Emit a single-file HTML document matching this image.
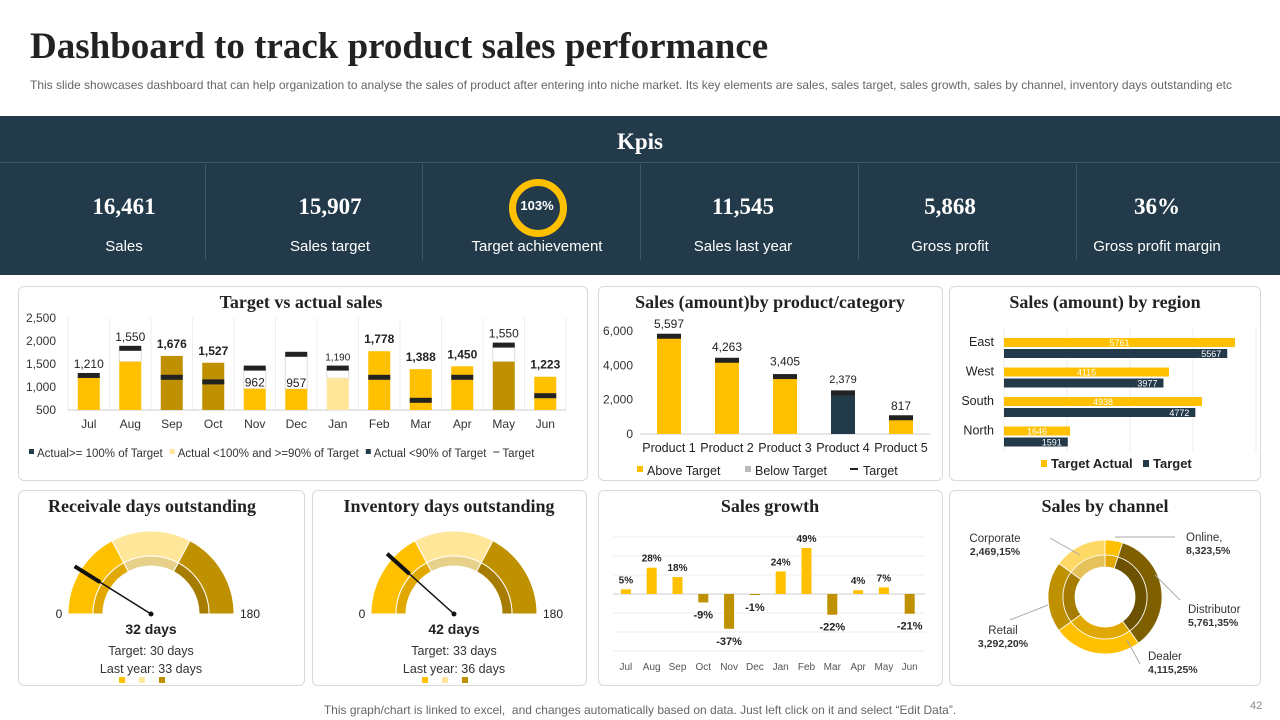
<!DOCTYPE html>
<html><head><meta charset="utf-8"><style>
body{margin:0;width:1280px;height:720px;overflow:hidden;background:#fff;font-family:"Liberation Sans",sans-serif;position:relative}
.abs{position:absolute}
.panel{position:absolute;border:1px solid #d9d9d9;border-radius:6px;background:#fff}
.kv{position:absolute;width:218px;text-align:center;color:#fff}
.kv .v{font-family:"Liberation Serif",serif;font-weight:bold;font-size:23px;position:absolute;top:78px;width:100%}
.kv .l{font-size:15px;position:absolute;top:122px;width:100%}
svg text{font-family:"Liberation Sans",sans-serif}
.t{font-family:"Liberation Serif",serif;font-weight:bold;font-size:18px;fill:#222}
</style></head><body>
<div class="abs" style="left:30px;top:25px;font-family:'Liberation Serif',serif;font-weight:bold;font-size:37px;color:#222">Dashboard to track product sales performance</div>
<div class="abs" style="left:30px;top:78px;font-size:12px;color:#666;white-space:nowrap">This slide showcases dashboard that can help organization to analyse the sales of product after entering into niche market. Its key elements are sales, sales target, sales growth, sales by channel, inventory days outstanding etc</div>
<div class="abs" style="left:0;top:116px;width:1280px;height:159px;background:#233a4a">
  <div class="abs" style="left:0;top:13px;width:1280px;text-align:center;color:#fff;font-family:'Liberation Serif',serif;font-weight:bold;font-size:23px">Kpis</div>
  <div class="abs" style="left:0;top:46px;width:1280px;height:1px;background:#3e5566"></div>
  <div class="abs" style="left:205px;top:48px;width:1px;height:96px;background:#3e5566"></div>
  <div class="abs" style="left:422px;top:48px;width:1px;height:96px;background:#3e5566"></div>
  <div class="abs" style="left:640px;top:48px;width:1px;height:96px;background:#3e5566"></div>
  <div class="abs" style="left:858px;top:48px;width:1px;height:96px;background:#3e5566"></div>
  <div class="abs" style="left:1076px;top:48px;width:1px;height:96px;background:#3e5566"></div>
  <div class="kv" style="left:15px"><div class="v">16,461</div><div class="l">Sales</div></div>
  <div class="kv" style="left:221px"><div class="v">15,907</div><div class="l">Sales target</div></div>
  <div class="kv" style="left:428px">
    <div class="abs" style="left:81px;top:63px;width:44px;height:44px;border:7px solid #ffc000;border-radius:50%;"></div>
    <div class="abs" style="left:0;top:82px;width:218px;text-align:center;font-weight:bold;font-size:13px">103%</div>
    <div class="l">Target achievement</div></div>
  <div class="kv" style="left:634px"><div class="v">11,545</div><div class="l">Sales last year</div></div>
  <div class="kv" style="left:841px"><div class="v">5,868</div><div class="l">Gross profit</div></div>
  <div class="kv" style="left:1048px"><div class="v">36%</div><div class="l">Gross profit margin</div></div>
</div>
<div class="panel" style="left:18px;top:286px;width:568px;height:193px"></div>
<div class="panel" style="left:598px;top:286px;width:343px;height:193px"></div>
<div class="panel" style="left:949px;top:286px;width:310px;height:193px"></div>
<div class="panel" style="left:18px;top:490px;width:285px;height:194px"></div>
<div class="panel" style="left:312px;top:490px;width:273px;height:194px"></div>
<div class="panel" style="left:598px;top:490px;width:343px;height:194px"></div>
<div class="panel" style="left:949px;top:490px;width:310px;height:194px"></div>
<div class="abs" style="left:0;top:703px;width:1280px;text-align:center;font-size:12px;color:#666">This graph/chart is linked to excel,&nbsp; and changes automatically based on data. Just left click on it and select “Edit Data”.</div>
<div class="abs" style="left:1250px;top:700px;font-size:11px;color:#888">42</div>
<svg id="s" class="abs" style="left:0;top:0" width="1280" height="720"></svg>
<script>
// Target vs actual
const tvaMonths=['Jul','Aug','Sep','Oct','Nov','Dec','Jan','Feb','Mar','Apr','May','Jun'];
const tvaActual=[1210,1550,1676,1527,962,957,1190,1778,1388,1450,1550,1223];
const tvaTarget=[1240,1830,1200,1100,1400,1700,1400,1200,700,1200,1900,800];
const tvaStatus=['g','g','d','d','g','g','p','g','g','g','d','g'];
const tvaTicks=[500,1000,1500,2000,2500];
// Product
const prodCats=['Product 1','Product 2','Product 3','Product 4','Product 5'];
const prodValues=[5597,4263,3405,2379,817];
const prodTargets=[5550,4150,3200,2250,800];
const prodTicks=[0,2000,4000,6000];
// Region
const regCats=['East','West','South','North'];
const regActual=[5761,4115,4938,1646];
const regTarget=[5567,3977,4772,1591];
// Gauges
const gaugeValues=[32,42];
const gaugeTargets=[30,33];
const gaugeLastYear=[33,36];
// Growth
const grMonths=['Jul','Aug','Sep','Oct','Nov','Dec','Jan','Feb','Mar','Apr','May','Jun'];
const grValues=[5,28,18,-9,-37,-1,24,49,-22,4,7,-21];
// Channel
const chNames=['Online','Distributor','Dealer','Retail','Corporate'];
const chValues=[8323,5761,4115,3292,2469];
const chPct=[5,35,25,20,15];

const S=document.getElementById('s');const NS='http://www.w3.org/2000/svg';
function E(tag,a,txt){const e=document.createElementNS(NS,tag);for(const k in a)e.setAttribute(k,a[k]);if(txt!=null)e.textContent=txt;S.appendChild(e);return e;}
const col={g:'#ffc000',d:'#bf9000',p:'#ffe699'};
function title(x,y,t,n){const e=E('text',{x:x,y:y,'text-anchor':'middle',class:'t'},t);}
title(301,308,'Target vs actual sales','tva-title');
title(770,308,'Sales (amount)by product/category','product-title');
title(1105,308,'Sales (amount) by region','region-title');
title(152,512,'Receivale days outstanding','receivable-title');
title(449,512,'Inventory days outstanding','inventory-title');
title(770,512,'Sales growth','growth-title');
title(1105,512,'Sales by channel','channel-title');

// TVA chart
(function(){const x0=68,x1=566,yv=v=>410-(v-500)*92/2000,bw=(x1-x0)/12;
for(let i=0;i<=12;i++)E('line',{x1:x0+i*bw,x2:x0+i*bw,y1:318,y2:410,stroke:'#eee'});
E('line',{x1:x0,x2:x1,y1:410,y2:410,stroke:'#ccc'});
tvaTicks.forEach(t=>E('text',{x:56,y:yv(t)+4,'text-anchor':'end','font-size':12,fill:'#333'},t.toLocaleString('en-US')));
tvaMonths.forEach((m,i)=>{const cx=x0+bw*(i+.5),a=tvaActual[i],t=tvaTarget[i];
 if(t>a){E('rect',{x:cx-11,y:yv(t),width:22,height:yv(a)-yv(t),fill:'#fff',stroke:'#ddd'});}
 const b=E('rect',{x:cx-11,y:yv(a),width:22,height:410-yv(a),fill:col[tvaStatus[i]]});
 
 E('rect',{x:cx-11,y:yv(t)-3,width:22,height:5,fill:'#222'});
 const bold=!(t>a);const top=Math.min(yv(a),yv(t))-8;
 E('text',{x:cx,y:(i==4||i==5)?yv(a)-2:top,'text-anchor':'middle','font-size':i==6?10:12,'font-weight':bold?'bold':'normal',fill:'#222'},a.toLocaleString('en-US'));
 E('text',{x:cx,y:428,'text-anchor':'middle','font-size':12,fill:'#333'},m);});
const lg=[['#233a4a','Actual>= 100% of Target'],['#ffe699','Actual <100% and >=90% of Target'],['#233a4a','Actual <90% of Target']];
let lx=29;lg.forEach(l=>{E('rect',{x:lx,y:449,width:5,height:5,fill:l[0]});const t=E('text',{x:lx+8,y:457,'font-size':11.5,fill:'#333'},l[1]);lx+=8+t.getComputedTextLength()+7;});
E('line',{x1:lx,x2:lx+6,y1:452,y2:452,stroke:'#333'});E('text',{x:lx+9,y:457,'font-size':11.5,fill:'#333'},'Target');})();

// Product chart
(function(){const yv=v=>434-v*103/6000,x0=640,bw=58;
prodTicks.forEach(t=>E('text',{x:633,y:yv(t)+4,'text-anchor':'end','font-size':12,fill:'#333'},t.toLocaleString('en-US')));
E('line',{x1:x0,x2:x0+5*bw,y1:434,y2:434,stroke:'#ccc'});
prodCats.forEach((c,i)=>{const cx=x0+bw*(i+.5);const v=prodValues[i];
 const b=E('rect',{x:cx-12,y:yv(v),width:24,height:434-yv(v),fill:i==3?'#233a4a':'#ffc000'});
 
 E('rect',{x:cx-12,y:yv(prodTargets[i])-5,width:24,height:5,fill:'#222'});
 E('text',{x:cx,y:yv(Math.max(v,prodTargets[i]))-10,'text-anchor':'middle','font-size':i==3?11:12,fill:'#222'},v.toLocaleString('en-US'));
 E('text',{x:cx,y:452,'text-anchor':'middle','font-size':12.5,fill:'#222'},c);});
E('rect',{x:637,y:466,width:6,height:6,fill:'#ffc000'});E('text',{x:647,y:475,'font-size':12.5,fill:'#222'},'Above Target');
E('rect',{x:745,y:466,width:6,height:6,fill:'#bbb'});E('text',{x:755,y:475,'font-size':12.5,fill:'#222'},'Below Target');
E('line',{x1:850,x2:858,y1:469,y2:469,stroke:'#222','stroke-width':2});E('text',{x:863,y:475,'font-size':12.5,fill:'#222'},'Target');})();

// Region chart
(function(){const x0=1004,xv=v=>x0+v*231/5761;
for(let g=0;g<=4;g++)E('line',{x1:x0+g*63,x2:x0+g*63,y1:328,y2:452,stroke:'#eee'});
regCats.forEach((c,i)=>{const y=338+i*29.5;
 const a=E('rect',{x:x0,y:y,width:xv(regActual[i])-x0,height:9,fill:'#ffc000'});
 const b=E('rect',{x:x0,y:y+11,width:xv(regTarget[i])-x0,height:9,fill:'#233a4a'});
 E('text',{x:(x0+xv(regActual[i]))/2,y:y+8,'text-anchor':'middle','font-size':9,fill:'#fff'},regActual[i]);
 E('text',{x:xv(regTarget[i])-6,y:y+19,'text-anchor':'end','font-size':9,fill:'#fff'},regTarget[i]);
 E('text',{x:994,y:y+8,'text-anchor':'end','font-size':12.5,fill:'#222'},c);});
E('rect',{x:1041,y:460,width:6,height:7,fill:'#ffc000'});E('text',{x:1051,y:468,'font-size':13,'font-weight':'bold',fill:'#222'},'Target Actual');
E('rect',{x:1143,y:460,width:6,height:7,fill:'#233a4a'});E('text',{x:1153,y:468,'font-size':13,'font-weight':'bold',fill:'#222'},'Target');})();

// Gauges
function arc(cx,cy,r0,r1,a0,a1,fill){const p=(r,a)=>[cx-r*Math.cos(a*Math.PI/180),cy-r*Math.sin(a*Math.PI/180)];
 const [x1,y1]=p(r1,a0),[x2,y2]=p(r1,a1),[x3,y3]=p(r0,a1),[x4,y4]=p(r0,a0);
 return E('path',{d:`M${x1},${y1}A${r1},${r1} 0 0 1 ${x2},${y2}L${x3},${y3}A${r0},${r0} 0 0 0 ${x4},${y4}Z`,fill:fill,stroke:'#fff','stroke-width':1});}
[[151,'receivable'],[454,'inventory']].forEach(([cx,n],k)=>{const cy=614;
 const segs=[[0,62,'#ffc000','#e0a800'],[62,118,'#ffe699','#e6d08a'],[118,180,'#bf9000','#a67d00']];
 segs.forEach(s=>{arc(cx,cy,58,83,s[0],s[1],s[2]);arc(cx,cy,48,58,s[0],s[1],s[3]);});
 const a=gaugeValues[k]/180*180*Math.PI/180;
 const nd=E('line',{x1:cx,y1:cy,x2:cx-90*Math.cos(a),y2:cy-90*Math.sin(a),stroke:'#111','stroke-width':1.5});
 E('line',{x1:cx-60*Math.cos(a),y1:cy-60*Math.sin(a),x2:cx-90*Math.cos(a),y2:cy-90*Math.sin(a),stroke:'#111','stroke-width':4});
 E('circle',{cx:cx,cy:cy,r:2.5,fill:'#111'});
 E('text',{x:cx-92,y:618,'text-anchor':'middle','font-size':12,fill:'#222'},'0');
 E('text',{x:cx+99,y:618,'text-anchor':'middle','font-size':12,fill:'#222'},'180');
 E('text',{x:cx,y:634,'text-anchor':'middle','font-size':14,'font-weight':'bold',fill:'#222'},gaugeValues[k]+' days');
 E('text',{x:cx,y:655,'text-anchor':'middle','font-size':12.5,fill:'#333'},'Target:  '+gaugeTargets[k]+' days');
 E('text',{x:cx,y:673,'text-anchor':'middle','font-size':12.5,fill:'#333'},'Last year: '+gaugeLastYear[k]+' days');
 ['#ffc000','#ffe699','#bf9000'].forEach((c,j)=>E('rect',{x:cx-32+j*20,y:677,width:6,height:6,fill:c}));});

// Growth
(function(){const y0=594,yv=v=>y0-v*0.94,x0=613,bw=25.8;
for(let g=-3;g<=3;g++)E('line',{x1:613,x2:925,y1:y0+g*19,y2:y0+g*19,stroke:'#eee'});
E('line',{x1:613,x2:925,y1:y0,y2:y0,stroke:'#ccc'});
grMonths.forEach((m,i)=>{const cx=x0+bw*(i+.5),v=grValues[i];
 const b=E('rect',{x:cx-5,y:Math.min(y0,yv(v)),width:10,height:Math.max(1,Math.abs(yv(v)-y0)),fill:v>=0?'#ffc000':'#bf9000'});
 
 if(v>=0)E('text',{x:cx,y:yv(v)-6,'text-anchor':'middle','font-size':10,'font-weight':'bold',fill:'#222'},v+'%');
 else E('text',{x:cx,y:yv(v)+16,'text-anchor':'middle','font-size':11,'font-weight':'bold',fill:'#222'},v+'%');
 E('text',{x:cx,y:670,'text-anchor':'middle','font-size':10,fill:'#555'},m);});})();

// Channel donut
(function(){const cx=1105,cy=597;const cols=['#ffc000','#7f6000','#ffc000','#bf9000','#ffd966'];const inner=['#e0a800','#6b5100','#e0a800','#a67d00','#e6c25a'];
const tot=chPct.reduce((a,b)=>a+b,0);let a=0;
function seg(r0,r1,s,e,f){const p=(r,t)=>[cx+r*Math.sin(t),cy-r*Math.cos(t)];const [x1,y1]=p(r1,s),[x2,y2]=p(r1,e),[x3,y3]=p(r0,e),[x4,y4]=p(r0,s);const l=(e-s)>Math.PI?1:0;
 return E('path',{d:`M${x1},${y1}A${r1},${r1} 0 ${l} 1 ${x2},${y2}L${x3},${y3}A${r0},${r0} 0 ${l} 0 ${x4},${y4}Z`,fill:f,stroke:'#fff','stroke-width':0.8});}
chPct.forEach((p,i)=>{const s=a/tot*2*Math.PI,e=(a+p)/tot*2*Math.PI;const q=seg(42,57,s,e,cols[i]);seg(30,42,s,e,inner[i]);a+=p;});
const L=[[1186,541,'start',1115,537,1175,537],[1188,613,'start',1155,575,1180,600],[1148,660,'start',1127,640,1140,664],[1003,634,'middle',1048,605,1010,620],[995,542,'middle',1080,555,1050,538]];
L.forEach((l,i)=>{E('polyline',{points:`${l[3]},${l[4]} ${l[5]},${l[6]}`,fill:'none',stroke:'#aaa'});
 E('text',{x:l[0],y:l[1],'text-anchor':l[2],'font-size':11.5,fill:'#333'},chNames[i]+(i==0?',':''));
 E('text',{x:l[0],y:l[1]+13,'text-anchor':l[2],'font-size':10.5,'font-weight':'bold',fill:'#333'},chValues[i].toLocaleString('en-US')+','+chPct[i]+'%');});})();
</script>
</body></html>
